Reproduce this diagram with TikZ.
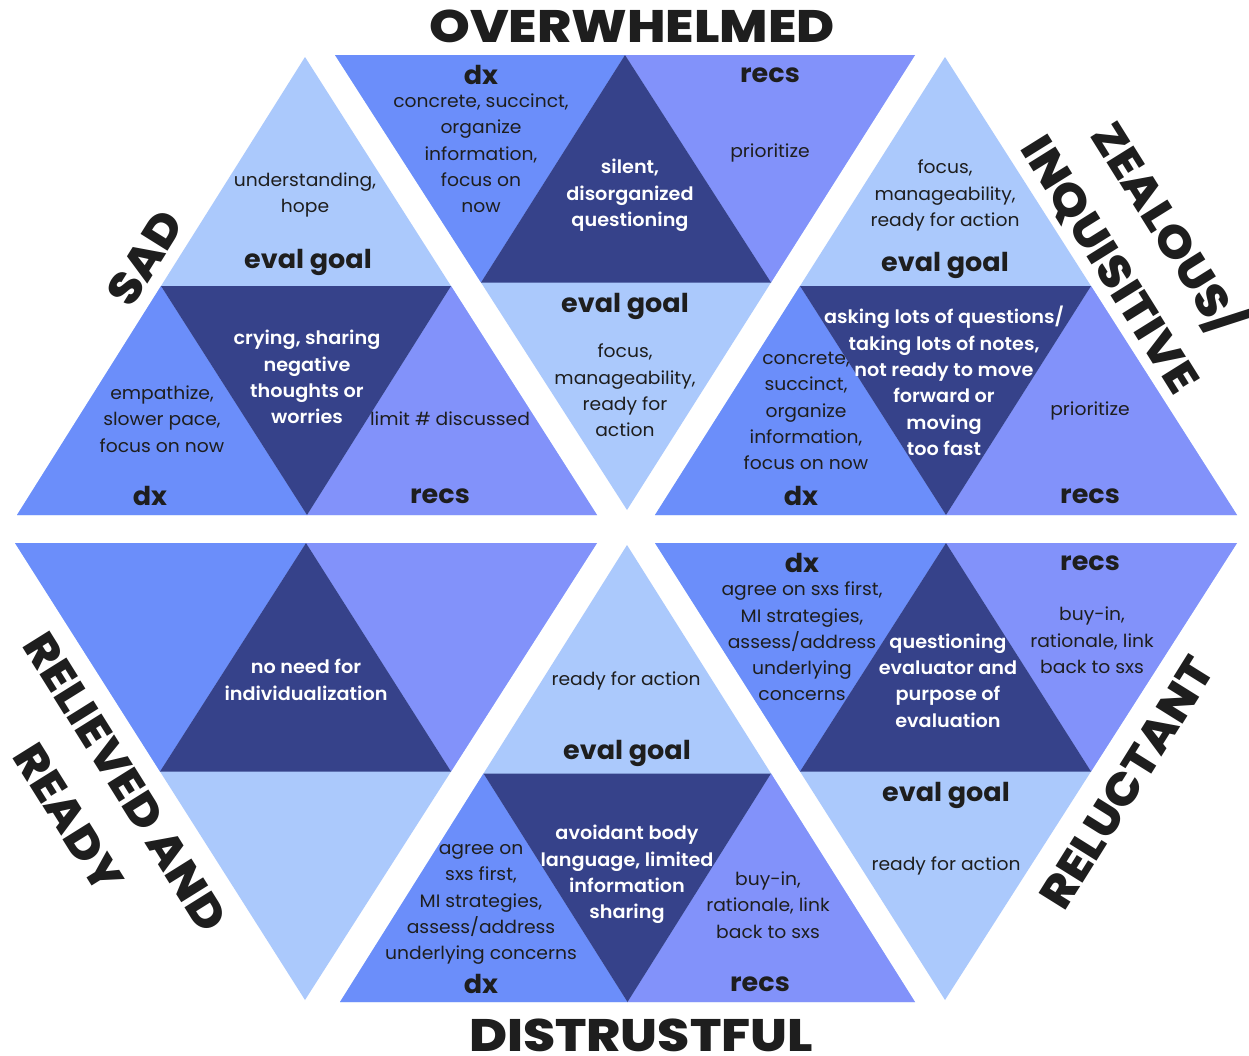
\documentclass[tikz,border=0pt]{standalone}
\usepackage{fontspec}
\setmainfont{Poppins}[FakeStretch=1.04]
% medium-heavy face for the white text in the dark triangles
\IfFontExistsTF{Poppins SemiBold}
  {\newfontfamily\semifam{Poppins SemiBold}[FakeStretch=1.04]\newcommand\semiface{\semifam}}
  {\newfontfamily\semifam{Poppins}[FakeStretch=1.04]\newcommand\semiface{\semifam\bfseries}}
% heavy faces for the six mood titles (the level ones a little wider)
\IfFontExistsTF{Poppins ExtraBold}
  {\newfontfamily\moodfam{Poppins ExtraBold}[FakeStretch=1.08]\newcommand\moodface{\moodfam}%
   \newfontfamily\widemoodfam{Poppins ExtraBold}[FakeStretch=1.14]\newcommand\widemoodface{\widemoodfam}}
  {\newfontfamily\moodfam{Poppins}[FakeStretch=1.12]\newcommand\moodface{\moodfam\bfseries}%
   \newfontfamily\widemoodfam{Poppins}[FakeStretch=1.18]\newcommand\widemoodface{\widemoodfam\bfseries}}
\definecolor{paleblue}{HTML}{ABC9FC}
\definecolor{midblue}{HTML}{6B8EFA}
\definecolor{lilac}{HTML}{8292FA}
\definecolor{navy}{HTML}{36428A}
\definecolor{inkc}{HTML}{1E1E1E}
\begin{document}
\begin{tikzpicture}[x=1pt,y=-1pt,
  body/.style={align=center, font=\fontsize{18}{26.3}\selectfont, text=inkc, inner sep=0pt},
  inv/.style={align=center, font=\fontsize{18.5}{26.3}\selectfont\semiface, text=white, inner sep=0pt},
  tag/.style={font=\fontsize{26}{28}\selectfont\bfseries, text=inkc, inner sep=0pt},
  mood/.style={align=center, font=\fontsize{45}{67}\selectfont\moodface, text=inkc, inner sep=0pt},
  widemood/.style={font=\fontsize{45.5}{50}\selectfont\widemoodface, text=inkc, inner sep=0pt, anchor=base}]
\useasboundingbox (0,0) rectangle (1249,1055);
\fill[white] (0,0) rectangle (1249,1055);

% ---------- OVERWHELMED (top, pointing down)
\fill[paleblue] (335,55) -- (915,55) -- (627,510) -- cycle;
\fill[midblue] (335,55) -- (625,55) -- (481,282.5) -- cycle;
\fill[lilac] (625,55) -- (915,55) -- (771,282.5) -- cycle;
\fill[navy] (625,55) -- (481,282.5) -- (771,282.5) -- cycle;
\node[tag] (ow-dx) at (481,75) {dx};
\node[body] (ow-dxt) at (481,153.5) {concrete, succinct,\\organize\\information,\\focus on\\now};
\node[inv] (ow-c) at (630,195.5) {silent,\\disorganized\\questioning};
\node[tag] (ow-rc) at (770,75) {recs};
\node[body] (ow-rct) at (770,153) {prioritize};
\node[tag] (ow-eg) at (625,306) {eval goal};
\node[body] (ow-egt) at (625,390.5) {focus,\\manageability,\\ready for\\action};
\node[widemood] (ow) at (632,42) {OVERWHELMED};

% ---------- SAD (upper left, pointing up)
\fill[paleblue] (305,57) -- (17,515) -- (597,515) -- cycle;
\fill[midblue] (161,286) -- (17,515) -- (307,515) -- cycle;
\fill[lilac] (451,286) -- (307,515) -- (597,515) -- cycle;
\fill[navy] (161,286) -- (451,286) -- (307,515) -- cycle;
\node[body] (sd-egt) at (305,195) {understanding,\\hope};
\node[tag] (sd-eg) at (308,262) {eval goal};
\node[inv] (sd-c) at (307,377) {crying, sharing\\negative\\thoughts or\\worries};
\node[body] (sd-dxt) at (162,419) {empathize,\\slower pace,\\focus on now};
\node[tag] (sd-dx) at (150,496) {dx};
\node[body] (sd-rct) at (450,419) {limit \# discussed};
\node[tag] (sd-rc) at (440,496) {recs};
\node[mood, rotate=58] (sd) at (145,258) {SAD};

% ---------- ZEALOUS/INQUISITIVE (upper right, pointing up)
\fill[paleblue] (945,57) -- (655,515) -- (1237,515) -- cycle;
\fill[midblue] (800,286) -- (655,515) -- (946,515) -- cycle;
\fill[lilac] (1091,286) -- (946,515) -- (1237,515) -- cycle;
\fill[navy] (800,286) -- (1091,286) -- (946,515) -- cycle;
\node[body] (zi-egt) at (945,195.5) {focus,\\manageability,\\ready for action};
\node[tag] (zi-eg) at (945,265) {eval goal};
\node[inv] (zi-c) at (944,381) {asking lots of questions/\\taking lots of notes,\\not ready to move\\forward or\\moving\\too fast};
\node[body] (zi-dxt) at (806,411) {concrete,\\succinct,\\organize\\information,\\focus on now};
\node[tag] (zi-dx) at (801,496) {dx};
\node[body] (zi-rct) at (1090,411) {prioritize};
\node[tag] (zi-rc) at (1090,496) {recs};
\node[mood, rotate=-58] (zi) at (1141,245) {ZEALOUS/\\INQUISITIVE};

% ---------- RELUCTANT (lower right, pointing down)
\fill[paleblue] (655,543) -- (1237,543) -- (945,1000) -- cycle;
\fill[midblue] (655,543) -- (946,543) -- (800,771.5) -- cycle;
\fill[lilac] (946,543) -- (1237,543) -- (1091,771.5) -- cycle;
\fill[navy] (946,543) -- (800,771.5) -- (1091,771.5) -- cycle;
\node[tag] (rl-dx) at (802,563) {dx};
\node[body] (rl-dxt) at (802,641.5) {agree on sxs first,\\MI strategies,\\assess/address\\underlying\\concerns};
\node[inv] (rl-c) at (948,680.5) {questioning\\evaluator and\\purpose of\\evaluation};
\node[tag] (rl-rc) at (1090,563) {recs};
\node[body] (rl-rct) at (1092,640.5) {buy-in,\\rationale, link\\back to sxs};
\node[tag] (rl-eg) at (946,795) {eval goal};
\node[body] (rl-egt) at (946,866) {ready for action};
\node[mood, rotate=58] (rl) at (1127,783) {RELUCTANT};

% ---------- DISTRUSTFUL (bottom, pointing up)
\fill[paleblue] (627,545) -- (340,1002) -- (915,1002) -- cycle;
\fill[midblue] (483.5,773.5) -- (340,1002) -- (627.5,1002) -- cycle;
\fill[lilac] (771,773.5) -- (627.5,1002) -- (915,1002) -- cycle;
\fill[navy] (483.5,773.5) -- (771,773.5) -- (627.5,1002) -- cycle;
\node[body] (dt-egt) at (626,681) {ready for action};
\node[tag] (dt-eg) at (627,753) {eval goal};
\node[inv] (dt-c) at (627,874.5) {avoidant body\\language, limited\\information\\sharing};
\node[body] (dt-dxt) at (481,904.5) {agree on\\sxs first,\\MI strategies,\\assess/address\\underlying concerns};
\node[tag] (dt-dx) at (481,984) {dx};
\node[body] (dt-rct) at (768,905) {buy-in,\\rationale, link\\back to sxs};
\node[tag] (dt-rc) at (760,984) {recs};
\node[widemood] (dt) at (641,1051) {DISTRUSTFUL};

% ---------- RELIEVED AND READY (lower left, pointing down)
\fill[paleblue] (15,543) -- (597,543) -- (305,1000) -- cycle;
\fill[midblue] (15,543) -- (306,543) -- (160,771.5) -- cycle;
\fill[lilac] (306,543) -- (597,543) -- (451,771.5) -- cycle;
\fill[navy] (306,543) -- (160,771.5) -- (451,771.5) -- cycle;
\node[inv] (rr-c) at (306,680) {no need for\\individualization};
\node[mood, rotate=-58] (rr) at (97,800) {RELIEVED AND\\READY};
\end{tikzpicture}
\end{document}
